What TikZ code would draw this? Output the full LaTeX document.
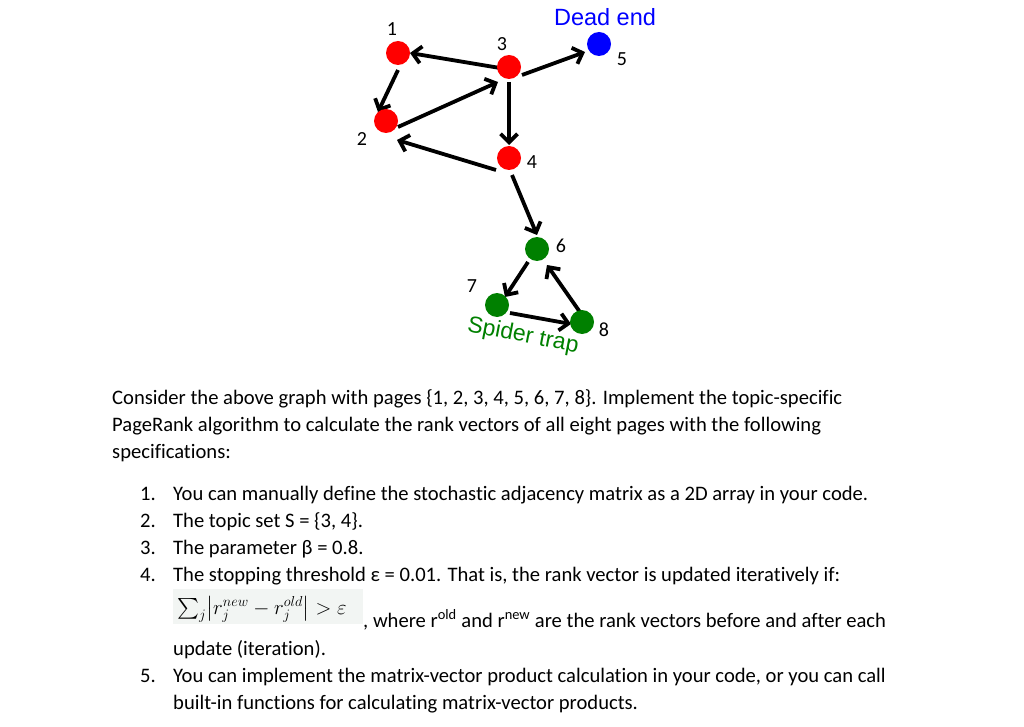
\documentclass[tikz,border=0pt]{standalone}
\usepackage{fontspec}
\usepackage{amsmath}
\setmainfont{Carlito}[Ligatures={NoCommon}]
\newfontfamily\arialf{Liberation Sans}
\usetikzlibrary{arrows.meta}
\definecolor{rred}{RGB}{255,0,0}
\definecolor{bblue}{RGB}{0,0,255}
\definecolor{ggreen}{RGB}{0,128,0}
\definecolor{fbox}{RGB}{242,245,243}
\tikzset{
  vert/.style={circle, inner sep=0pt, minimum size=24pt},
  redv/.style={vert, fill=rred},
  bluev/.style={vert, fill=bblue},
  greenv/.style={vert, fill=ggreen},
  arr/.style={line width=3.8pt, -{Straight Barb[length=8.5pt,width=17pt]}},
  num/.style={font=\fontsize{20}{22}\selectfont, inner sep=0pt},
  txt/.style={font=\fontsize{20.6}{24}\selectfont, anchor=base west, inner sep=0pt},
}
\begin{document}
\begin{tikzpicture}[x=1pt,y=-1pt]
\useasboundingbox (0,0) rectangle (1024,727);
% vertices (coordinates first for edges)
\coordinate (c1) at (398,53);
\coordinate (c2) at (386,121);
\coordinate (c3) at (509,67);
\coordinate (c4) at (509,158);
\coordinate (c5) at (599,44);
\coordinate (c6) at (537,249);
\coordinate (c7) at (497,305);
\coordinate (c8) at (582,322);
% edges
\draw[arr] ([shift={(-9,1)}]c3) -- ([shift={(12,0)}]c1);
\draw[arr] ([shift={(0,17)}]c1) -- ([shift={(-8,-9)}]c2);
\draw[arr] ([shift={(12,6)}]c2) -- ([shift={(-11,15)}]c3);
\draw[arr] ([shift={(0,15)}]c3) -- ([shift={(0,-13)}]c4);
\draw[arr] ([shift={(-13,12)}]c4) -- ([shift={(11,19)}]c2);
\draw[arr] ([shift={(13,8)}]c3) -- ([shift={(-14,8)}]c5);
\draw[arr] ([shift={(3,17)}]c4) -- ([shift={(0,-14)}]c6);
\draw[arr] ([shift={(-9,13)}]c6) -- ([shift={(8,-8)}]c7);
\draw[arr] ([shift={(13,8)}]c7) -- ([shift={(-11,2)}]c8);
\draw[arr] ([shift={(0,-7)}]c8) -- ([shift={(10,16)}]c6);
% nodes
\node[redv] (n1) at (c1) {};
\node[redv] (n2) at (c2) {};
\node[redv] (n3) at (c3) {};
\node[redv] (n4) at (c4) {};
\node[bluev] (n5) at (c5) {};
\node[greenv] (n6) at (c6) {};
\node[greenv] (n7) at (c7) {};
\node[greenv] (n8) at (c8) {};
% labels
\node[num] (l1) at (392,29) {1};
\node[num] (l2) at (362,139) {2};
\node[num] (l3) at (502,44) {3};
\node[num] (l4) at (532,162) {4};
\node[num] (l5) at (622,59) {5};
\node[num] (l6) at (561,246) {6};
\node[num] (l7) at (472,286) {7};
\node[num] (l8) at (604,330) {8};
\node[font=\arialf\fontsize{23.5}{26}\selectfont, text=bblue, inner sep=0pt] (de) at (605,17) {Dead end};
\node[font=\arialf\fontsize{23}{26}\selectfont, text=ggreen, inner sep=0pt, rotate=-11] (st) at (523,336) {Spider trap};
% paragraph
\node[txt] (p1) at (112,404) {Consider the above graph with pages \{1, 2, 3, 4, 5, 6, 7, 8\}. Implement the topic-specific};
\node[txt] (p2) at (112,431) {PageRank algorithm to calculate the rank vectors of all eight pages with the following};
\node[txt] (p3) at (112,458) {specifications:};
% list
\node[txt] (i1) at (140,500) {1.};
\node[txt] (t1) at (173,500) {You can manually define the stochastic adjacency matrix as a 2D array in your code.};
\node[txt] (i2) at (140,527) {2.};
\node[txt] (t2) at (173,527) {The topic set S = \{3, 4\}.};
\node[txt] (i3) at (140,554) {3.};
\node[txt] (t3) at (173,554) {The parameter β = 0.8.};
\node[txt] (i4) at (140,581) {4.};
\node[txt] (t4) at (173,581) {The stopping threshold ε = 0.01. That is, the rank vector is updated iteratively if:};
\fill[fbox] (173,589) rectangle (363,624);
\node[anchor=base west, inner sep=0pt, font=\fontsize{21.5}{24}\selectfont] (fm) at (177,614) {$\sum_j\bigl\lvert r_j^{new}-r_j^{old}\bigr\rvert>\varepsilon$};
\node[txt] (t4b) at (363,627) {, where r\textsuperscript{old} and r\textsuperscript{new} are the rank vectors before and after each};
\node[txt] (t4c) at (173,655) {update (iteration).};
\node[txt] (i5) at (140,682) {5.};
\node[txt] (t5) at (173,682) {You can implement the matrix-vector product calculation in your code, or you can call};
\node[txt] (t5b) at (173,709) {built-in functions for calculating matrix-vector products.};
\end{tikzpicture}
\end{document}
